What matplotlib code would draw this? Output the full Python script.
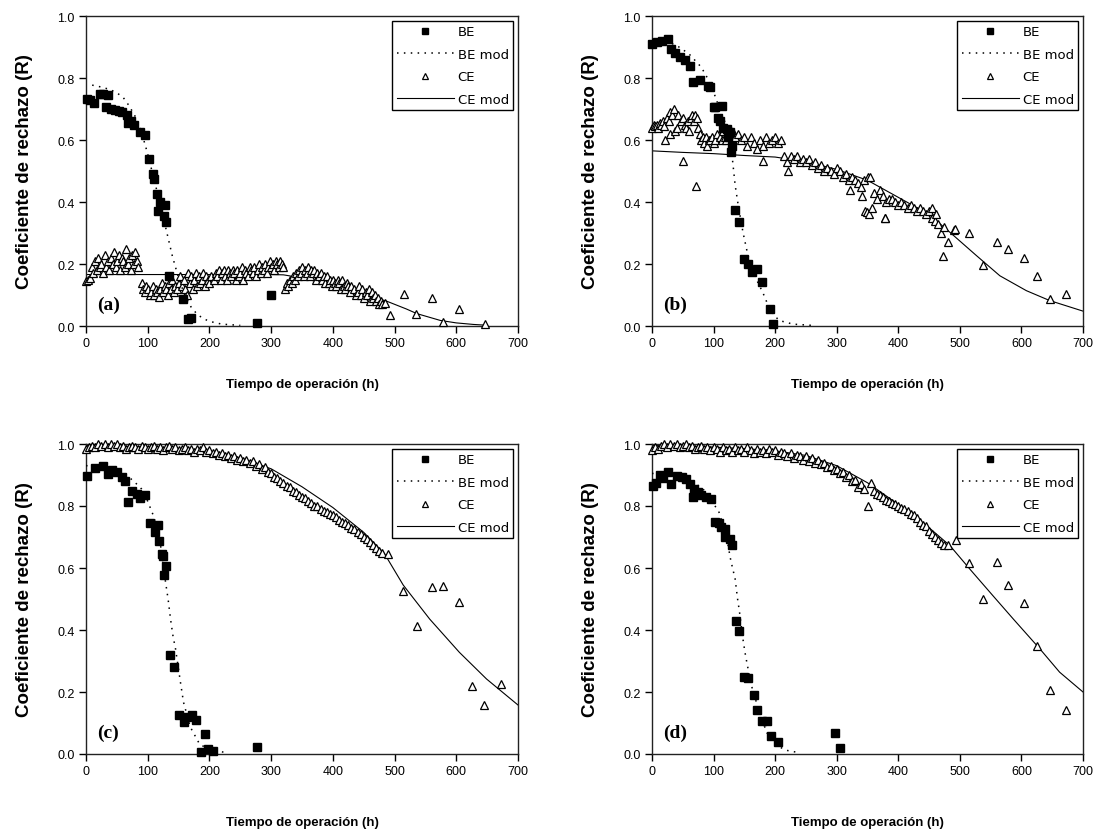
import matplotlib
matplotlib.use("Agg")
import matplotlib.pyplot as plt

plt.rcParams['font.family'] = ['Liberation Sans', 'DejaVu Sans']

# ---------------- Panel (a) ----------------
be_t_a = [1, 6, 13, 22, 28, 36, 32, 40, 47, 53, 58, 66, 68, 73, 78, 88, 95, 102, 109, 110,
          115, 117, 120, 126, 128, 130, 135, 157, 165, 170, 277, 300]
be_r_a = [0.732, 0.73, 0.718, 0.748, 0.75, 0.745, 0.705, 0.70, 0.697, 0.695, 0.69, 0.68, 0.655, 0.66, 0.65, 0.627, 0.617, 0.54, 0.49, 0.475,
          0.426, 0.37, 0.40, 0.355, 0.39, 0.335, 0.16, 0.087, 0.023, 0.027, 0.01, 0.10]
bemod_t_a = [10, 20, 30, 40, 50, 60, 70, 80, 90, 100, 110, 120, 130, 140, 150, 160, 170, 180, 190, 200, 220, 250]
bemod_r_a = [0.777, 0.773, 0.768, 0.762, 0.752, 0.738, 0.71, 0.675, 0.625, 0.555, 0.475, 0.395, 0.31, 0.225, 0.155,
             0.10, 0.062, 0.038, 0.024, 0.015, 0.006, 0.002]
ce_t_a = [0, 3, 6, 10, 12, 15, 18, 20, 22, 25, 28, 30, 33, 35, 38, 40, 43, 45, 48, 50, 53, 55, 58, 60, 63, 65, 68, 70, 73, 75, 78, 80, 83, 85,
          90, 92, 95, 98, 100, 103, 105, 108, 110, 113, 115, 118, 120, 123, 125, 128, 130, 133, 135, 138, 140, 143, 145, 148, 150, 153, 155, 158, 160,
          163, 165, 168, 170, 173, 175, 178, 180, 183, 185, 188, 190, 193, 195, 198, 200, 203,
          207, 210, 213, 215, 218, 220, 223, 225, 228, 230, 233, 235, 238, 240, 243, 245, 248, 250, 253, 255, 258, 260, 263, 265, 268, 270,
          273, 275, 278, 280, 283, 285, 288, 290, 293, 295, 298,
          300, 303, 305, 308, 310, 313, 315, 318, 320,
          322, 325, 328, 330, 333, 335, 338, 340, 343,
          345, 348, 350, 353, 355, 358, 360, 363, 365, 368, 370, 373, 375, 378, 380, 383, 385, 388,
          390, 393, 395, 398, 400, 403, 405, 408, 410, 413, 415, 418, 420, 423, 425, 428, 430,
          435, 438, 440, 443, 445, 448, 450, 453, 455, 458, 460, 463, 465, 468, 470, 473, 475, 478, 480, 485,
          492, 516, 535, 561, 578, 605, 647]
ce_r_a = [0.145, 0.15, 0.155, 0.19, 0.17, 0.21, 0.18, 0.22, 0.19, 0.20, 0.17, 0.23, 0.19, 0.21, 0.18, 0.22, 0.20, 0.24, 0.19, 0.21, 0.23, 0.18, 0.22, 0.21, 0.19, 0.25, 0.20, 0.22, 0.18, 0.23, 0.20, 0.24, 0.21, 0.19,
          0.14, 0.12, 0.11, 0.13, 0.12, 0.10, 0.11, 0.13, 0.10, 0.12, 0.11, 0.095, 0.12, 0.14, 0.11, 0.13, 0.12, 0.10, 0.14, 0.12, 0.15, 0.11, 0.13, 0.12, 0.14, 0.16, 0.13, 0.15, 0.12,
          0.10, 0.17, 0.14, 0.16, 0.12, 0.15, 0.17, 0.13, 0.16, 0.14, 0.15, 0.17, 0.13, 0.16, 0.15, 0.14, 0.16,
          0.15, 0.17, 0.16, 0.18, 0.15, 0.17, 0.18, 0.16, 0.15, 0.18, 0.17, 0.16, 0.18, 0.17, 0.15, 0.18, 0.16, 0.17, 0.19, 0.15, 0.18, 0.17, 0.16, 0.19, 0.18, 0.17,
          0.19, 0.16, 0.18, 0.20, 0.17, 0.19, 0.18, 0.20, 0.17, 0.19, 0.21,
          0.19, 0.20, 0.18, 0.21, 0.20, 0.19, 0.21, 0.20, 0.19,
          0.12, 0.14, 0.13, 0.15, 0.14, 0.16, 0.15, 0.17, 0.16,
          0.18, 0.17, 0.19, 0.16, 0.18, 0.17, 0.19, 0.16, 0.18, 0.17, 0.18, 0.15, 0.17, 0.16, 0.17, 0.15, 0.16, 0.14,
          0.16, 0.14, 0.15, 0.13, 0.15, 0.14, 0.13, 0.15, 0.14, 0.12, 0.15, 0.13, 0.12, 0.14, 0.13, 0.11, 0.13,
          0.12, 0.10, 0.11, 0.13, 0.10, 0.12, 0.09, 0.11, 0.10, 0.12, 0.08, 0.11, 0.09, 0.10, 0.08, 0.09, 0.07, 0.08, 0.07, 0.075,
          0.035, 0.103, 0.04, 0.09, 0.013, 0.055, 0.005]
cemod_t_a = [0, 100, 200, 300, 320, 350, 400, 450, 486, 519, 536, 574, 600, 628, 645]
cemod_r_a = [0.166, 0.166, 0.166, 0.166, 0.165, 0.155, 0.13, 0.10, 0.081, 0.055, 0.04, 0.018, 0.01, 0.005, 0.003]

# ---------------- Panel (b) ----------------
be_t_b = [0, 8, 16, 26, 31, 37, 45, 53, 61, 67, 78, 91, 94, 100, 102, 108, 110, 113, 116, 121, 124, 127, 128, 130,
          135, 142, 149.5, 156, 162, 170, 178, 191.5, 197]
be_r_b = [0.91, 0.915, 0.92, 0.926, 0.894, 0.88, 0.867, 0.857, 0.84, 0.788, 0.795, 0.773, 0.77, 0.705, 0.705, 0.67, 0.66, 0.71, 0.64, 0.635, 0.61, 0.625, 0.56, 0.58,
          0.374, 0.336, 0.216, 0.20, 0.175, 0.185, 0.143, 0.055, 0.006]
bemod_t_b = [0, 20, 40, 60, 80, 90, 100, 110, 120, 125, 130, 135, 140, 148, 156, 164, 172, 180, 191, 200, 208, 229, 260]
bemod_r_b = [0.925, 0.92, 0.905, 0.878, 0.835, 0.80, 0.755, 0.70, 0.65, 0.615, 0.55, 0.455, 0.39, 0.30, 0.226, 0.18,
             0.14, 0.108, 0.055, 0.03, 0.017, 0.006, 0.002]
ce_t_b = [0, 3, 5, 8, 10, 13, 15, 18, 20, 21,
          25, 27, 30, 30, 32, 35, 38, 40, 43, 47,
          50, 50, 53, 55, 58, 60, 63, 65, 68, 70,
          71, 73, 75, 78, 80, 83, 85, 88, 90, 92,
          95, 98, 100, 103, 106, 110, 113, 115, 118, 120,
          123, 125, 128, 130, 133, 135, 140, 145, 150, 155,
          160, 165, 170, 175, 180, 181, 185, 190, 195, 200,
          205, 210, 215, 219, 221, 225, 230, 235, 240, 245,
          250, 255, 260, 265, 270, 275, 280, 285, 290, 295,
          300, 305, 310, 315, 320, 322, 325, 330, 335, 340,
          341, 345, 346, 349, 350, 352, 354, 357, 360, 365,
          370, 375, 378, 379, 380, 385, 390, 395, 400, 405,
          410, 415, 420, 425, 430, 435, 440, 445, 450, 455,
          455, 460, 462, 465, 470, 473, 475, 481, 490, 492,
          515, 538, 560, 578, 604, 626, 646, 673]
ce_r_b = [0.64, 0.65, 0.645, 0.65, 0.64, 0.655, 0.65, 0.66, 0.645, 0.60,
          0.67, 0.66, 0.62, 0.69, 0.68, 0.70, 0.63, 0.64, 0.68, 0.66,
          0.67, 0.533, 0.65, 0.64, 0.66, 0.63, 0.67, 0.68, 0.66, 0.68,
          0.453, 0.67, 0.64, 0.62, 0.60, 0.61, 0.59, 0.61, 0.58, 0.60,
          0.60, 0.61, 0.59, 0.60, 0.62, 0.61, 0.60, 0.63, 0.61, 0.60,
          0.62, 0.61, 0.63, 0.60, 0.62, 0.61, 0.62, 0.60, 0.61, 0.58,
          0.61, 0.59, 0.57, 0.60, 0.58, 0.533, 0.61, 0.59, 0.60, 0.61,
          0.59, 0.60, 0.55, 0.53, 0.50, 0.55, 0.54, 0.55, 0.53, 0.54,
          0.53, 0.54, 0.52, 0.53, 0.51, 0.52, 0.50, 0.51, 0.50, 0.49,
          0.51, 0.50, 0.48, 0.49, 0.47, 0.44, 0.48, 0.47, 0.46, 0.45,
          0.42, 0.47, 0.37, 0.367, 0.48, 0.36, 0.48, 0.38, 0.43, 0.41,
          0.44, 0.42, 0.348, 0.35, 0.40, 0.41, 0.41, 0.40, 0.39, 0.40,
          0.39, 0.38, 0.39, 0.38, 0.37, 0.38, 0.37, 0.36, 0.37, 0.35,
          0.38, 0.34, 0.36, 0.33, 0.30, 0.227, 0.32, 0.27, 0.31, 0.313,
          0.30, 0.198, 0.27, 0.25, 0.22, 0.16, 0.087, 0.103]
cemod_t_b = [0, 50, 100, 150, 200, 250, 300, 350, 400, 450, 484, 527, 565, 608, 646, 700]
cemod_r_b = [0.565, 0.56, 0.556, 0.55, 0.545, 0.53, 0.505, 0.47, 0.415, 0.36, 0.302, 0.227, 0.162, 0.114, 0.082, 0.048]

# ---------------- Panel (c) ----------------
be_t_c = [1, 15, 27, 35, 42, 50, 58, 64, 68, 74, 82, 88, 95, 104, 112, 117, 119, 123, 125, 130, 127,
          136, 143, 151, 158, 164, 171, 179, 193, 186, 198, 206, 277]
be_r_c = [0.897, 0.922, 0.93, 0.903, 0.915, 0.91, 0.893, 0.882, 0.814, 0.85, 0.84, 0.825, 0.835, 0.745, 0.717, 0.74, 0.688, 0.645, 0.64, 0.607, 0.577,
          0.319, 0.28, 0.126, 0.104, 0.12, 0.126, 0.11, 0.065, 0.006, 0.016, 0.01, 0.022]
bemod_t_c = [0, 20, 40, 60, 80, 90, 100, 110, 120, 127, 133, 137, 141, 145, 153, 158, 169, 184, 198, 225]
bemod_r_c = [0.93, 0.93, 0.925, 0.91, 0.875, 0.855, 0.815, 0.765, 0.685, 0.58, 0.50, 0.435, 0.38, 0.34, 0.232, 0.167,
             0.087, 0.032, 0.016, 0.005]
ce_t_c = [0, 5, 10, 15, 20, 25, 30, 35, 40, 45, 50, 55, 60, 65, 70, 75, 80, 85, 90, 95,
          100, 105, 110, 115, 120, 125, 130, 135, 140, 145, 150, 155, 160, 165, 170, 175, 180, 185, 190, 195,
          200, 205, 210, 215, 220, 225, 230, 235, 240, 245, 250, 255, 260, 265, 270, 275, 280, 285, 290, 295,
          300, 305, 310, 315, 320, 325, 330, 335, 340, 345, 350, 355, 360, 365, 370, 375, 380, 385, 390, 395,
          400, 405, 410, 415, 420, 425, 430, 435, 440, 445, 450, 455, 460, 465, 470, 475, 480, 490,
          514, 537, 560, 578, 605, 625, 645, 672]
ce_r_c = [0.985, 0.99, 0.995, 0.99, 1.0, 0.995, 1.0, 0.99, 1.0, 0.995, 1.0, 0.99, 0.995, 0.985, 0.99, 0.995, 0.99, 0.985, 0.995, 0.99,
          0.985, 0.99, 0.995, 0.985, 0.99, 0.98, 0.99, 0.995, 0.985, 0.99, 0.98, 0.985, 0.99, 0.98, 0.985, 0.975, 0.985, 0.98, 0.99, 0.975,
          0.98, 0.97, 0.975, 0.965, 0.97, 0.96, 0.965, 0.955, 0.96, 0.95, 0.955, 0.945, 0.95, 0.94, 0.945, 0.93, 0.935, 0.92, 0.925, 0.91,
          0.905, 0.895, 0.89, 0.88, 0.875, 0.865, 0.86, 0.85, 0.845, 0.835, 0.83, 0.825, 0.815, 0.81, 0.80, 0.80, 0.79, 0.785, 0.78, 0.775,
          0.77, 0.765, 0.755, 0.75, 0.745, 0.74, 0.73, 0.725, 0.715, 0.71, 0.70, 0.695, 0.685, 0.675, 0.665, 0.655, 0.65, 0.645,
          0.527, 0.414, 0.538, 0.543, 0.49, 0.22, 0.159, 0.226]
cemod_t_c = [0, 50, 100, 150, 200, 250, 300, 350, 400, 450, 484, 514, 557, 605, 649, 700]
cemod_r_c = [0.995, 0.993, 0.99, 0.985, 0.975, 0.955, 0.92, 0.862, 0.795, 0.715, 0.645, 0.545, 0.435, 0.328, 0.242, 0.158]

# ---------------- Panel (d) ----------------
be_t_d = [2, 6, 13, 18, 26, 31, 40, 48, 56, 61, 68, 67, 75, 80, 88, 96, 102, 109, 112, 118, 119, 126, 130,
          136, 142, 149, 156, 165, 171, 178, 186, 194, 205, 297, 305]
be_r_d = [0.866, 0.874, 0.90, 0.89, 0.91, 0.87, 0.896, 0.892, 0.887, 0.87, 0.855, 0.829, 0.846, 0.837, 0.83, 0.822, 0.75, 0.745, 0.731, 0.725, 0.70, 0.693, 0.675,
          0.43, 0.397, 0.25, 0.245, 0.19, 0.142, 0.106, 0.105, 0.058, 0.038, 0.068, 0.02]
bemod_t_d = [0, 20, 40, 60, 80, 90, 100, 108, 115, 122, 128, 135, 139, 142, 147, 151, 155, 164, 175, 186, 198, 208, 218, 237]
bemod_r_d = [0.905, 0.905, 0.90, 0.885, 0.86, 0.84, 0.806, 0.785, 0.74, 0.69, 0.624, 0.565, 0.50, 0.46, 0.38, 0.328,
             0.285, 0.20, 0.135, 0.07, 0.04, 0.022, 0.012, 0.005]
ce_t_d = [0, 5, 10, 15, 20, 25, 30, 35, 40, 45, 50, 55, 60, 65, 70, 75, 80, 85, 90, 95,
          100, 105, 110, 115, 120, 125, 130, 135, 140, 145, 150, 155, 160, 165, 170, 175, 180, 185, 190, 195,
          200, 205, 210, 215, 220, 225, 230, 235, 240, 245, 250, 255, 260, 265, 270, 275, 280, 285, 290, 295,
          300, 305, 310, 315, 320, 325, 330, 335, 340, 345, 350, 355, 360, 365, 370, 375, 380, 385, 390, 395,
          400, 405, 410, 415, 420, 425, 430, 435, 440, 445, 450, 455, 460, 465, 470, 475, 480, 493,
          515, 537, 560, 578, 604, 626, 646, 673]
ce_r_d = [0.98, 0.99, 0.985, 0.995, 1.0, 0.99, 1.0, 0.995, 1.0, 0.99, 0.995, 1.0, 0.99, 0.995, 0.985, 0.99, 0.995, 0.985, 0.99, 0.98,
          0.99, 0.985, 0.975, 0.99, 0.98, 0.985, 0.975, 0.99, 0.98, 0.985, 0.975, 0.99, 0.98, 0.97, 0.985, 0.975, 0.98, 0.97, 0.985, 0.975,
          0.98, 0.965, 0.975, 0.97, 0.96, 0.97, 0.955, 0.965, 0.96, 0.95, 0.96, 0.945, 0.955, 0.94, 0.95, 0.935, 0.94, 0.925, 0.93, 0.915,
          0.92, 0.905, 0.91, 0.895, 0.90, 0.88, 0.885, 0.86, 0.87, 0.855, 0.80, 0.875, 0.85, 0.84, 0.835, 0.83, 0.82, 0.815, 0.81, 0.805,
          0.80, 0.795, 0.79, 0.785, 0.775, 0.77, 0.76, 0.75, 0.74, 0.735, 0.72, 0.71, 0.70, 0.69, 0.68, 0.675, 0.675, 0.69,
          0.616, 0.50, 0.62, 0.545, 0.487, 0.35, 0.207, 0.143]
cemod_t_d = [0, 50, 100, 150, 200, 250, 300, 350, 400, 450, 484, 516, 554, 587, 630, 662, 700]
cemod_r_d = [0.995, 0.993, 0.99, 0.985, 0.978, 0.963, 0.93, 0.875, 0.805, 0.73, 0.672, 0.597, 0.51, 0.435, 0.339, 0.264, 0.20]

panels = [
    ("(a)", be_t_a, be_r_a, bemod_t_a, bemod_r_a, ce_t_a, ce_r_a, cemod_t_a, cemod_r_a),
    ("(b)", be_t_b, be_r_b, bemod_t_b, bemod_r_b, ce_t_b, ce_r_b, cemod_t_b, cemod_r_b),
    ("(c)", be_t_c, be_r_c, bemod_t_c, bemod_r_c, ce_t_c, ce_r_c, cemod_t_c, cemod_r_c),
    ("(d)", be_t_d, be_r_d, bemod_t_d, bemod_r_d, ce_t_d, ce_r_d, cemod_t_d, cemod_r_d),
]

x_ticks = [0, 100, 200, 300, 400, 500, 600, 700]
y_ticks = [0.0, 0.2, 0.4, 0.6, 0.8, 1.0]
x_label = "Tiempo de operación (h)"
y_label = "Coeficiente de rechazo (R)"

fig = plt.figure(figsize=(11.04, 8.37), dpi=100)
W, H = 1104.0, 837.0
boxes = [(86, 17, 432, 310), (652, 17, 431, 310), (86, 445, 432, 310), (652, 445, 431, 310)]
xlabel_pads = [21, 21, 28, 28]

for k, ((tag, bt, br, bmt, bmr, ct, cr, cmt, cmr), (lx, ty, w, h)) in enumerate(zip(panels, boxes)):
    ax = fig.add_axes([lx / W, 1 - (ty + h) / H, w / W, h / H])
    ax.plot(cmt, cmr, '-', color='black', lw=0.8, label='CE mod', zorder=2)
    ax.plot(ct, cr, linestyle='none', marker='^', ms=6, mfc='white', mec='black', mew=0.9,
            label='CE', clip_on=False, zorder=3)
    ax.plot(bmt, bmr, linestyle=(0, (1, 3.5)), color='black', lw=1.1, label='BE mod', zorder=4)
    ax.plot(bt, br, linestyle='none', marker='s', ms=5.2, mfc='black', mec='black',
            label='BE', clip_on=False, zorder=5)
    ax.set_xlim(0, 700)
    ax.set_ylim(0, 1.0)
    ax.set_xticks(x_ticks)
    ax.set_yticks(y_ticks)
    ax.set_yticklabels([f"{v:.1f}" for v in y_ticks])
    ax.tick_params(direction='out', length=5, width=1, labelsize=9, top=False, right=False, pad=3)
    for sp in ax.spines.values():
        sp.set_linewidth(1.0)
        sp.set_color('#222222')
    ax.set_xlabel(x_label, fontsize=9.5, fontweight='bold', labelpad=xlabel_pads[k])
    ax.set_ylabel(y_label, fontsize=13.5, fontweight='bold', labelpad=18)
    ax.text(0.025, 0.07, tag, transform=ax.transAxes, fontsize=14, fontweight='bold',
            family='Liberation Serif', ha='left', va='center')
    handles, labels = ax.get_legend_handles_labels()
    order = [labels.index(n) for n in ['BE', 'BE mod', 'CE', 'CE mod']]
    leg = ax.legend([handles[i] for i in order], [labels[i] for i in order], loc='upper right',
                    prop={'family': 'DejaVu Sans', 'size': 9.5}, frameon=True, fancybox=False,
                    edgecolor='black', framealpha=1,
                    handlelength=4.3, labelspacing=0.72, borderaxespad=0.35, handletextpad=0.3,
                    borderpad=0.35, markerscale=0.75)
    leg.get_frame().set_linewidth(1.0)

fig.savefig("out.png", dpi=100)
